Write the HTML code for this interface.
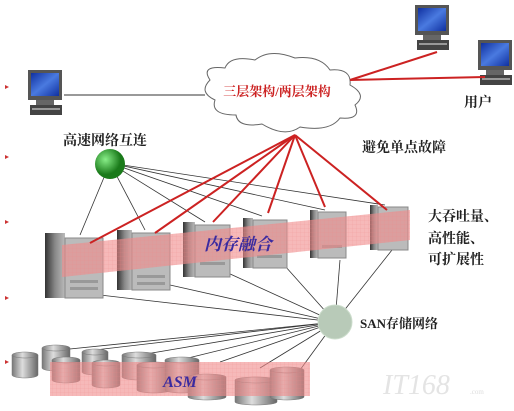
<!DOCTYPE html>
<html><head><meta charset="utf-8"><style>
html,body{margin:0;padding:0;background:#fff;}
svg{display:block;}
text{font-family:"Liberation Serif","Noto Serif CJK SC","Noto Sans CJK SC",serif;}
</style></head><body>
<svg width="514" height="411" viewBox="0 0 514 411" xmlns="http://www.w3.org/2000/svg">
<defs>
<linearGradient id="srv" x1="0" x2="1"><stop offset="0" stop-color="#333"/><stop offset="0.5" stop-color="#888"/><stop offset="1" stop-color="#bbb"/></linearGradient>
<linearGradient id="cyl" x1="0" x2="1"><stop offset="0" stop-color="#777"/><stop offset="0.4" stop-color="#ddd"/><stop offset="1" stop-color="#666"/></linearGradient>
<radialGradient id="grn" cx="0.35" cy="0.35"><stop offset="0" stop-color="#8e8"/><stop offset="1" stop-color="#1a7a1a"/></radialGradient>
<linearGradient id="scr" x1="0" y1="0" x2="1" y2="1"><stop offset="0" stop-color="#1030a0"/><stop offset="0.5" stop-color="#4a7ae0"/><stop offset="1" stop-color="#1030a0"/></linearGradient>
<g id="pc"><rect x="0" y="0" width="34" height="30" fill="#555"/><rect x="3" y="3" width="28" height="23" fill="url(#scr)"/><rect x="8" y="30" width="18" height="5" fill="#666"/><rect x="2" y="35" width="32" height="10" fill="#444"/><rect x="4" y="38" width="28" height="2" fill="#999"/></g>
<pattern id="grid" width="4" height="4" patternUnits="userSpaceOnUse"><path d="M4 0H0V4" fill="none" stroke="#e88" stroke-width="0.5"/></pattern>
</defs>
<g fill="#c33"><path d="M5 85l4 2-4 2z"/><path d="M5 155l4 2-4 2z"/><path d="M5 220l4 2-4 2z"/><path d="M5 296l4 2-4 2z"/><path d="M5 360l4 2-4 2z"/></g>
<use href="#pc" x="28" y="70"/>
<use href="#pc" x="415" y="5"/>
<use href="#pc" x="478" y="40"/>
<line x1="64" y1="95" x2="205" y2="95" stroke="#333" stroke-width="1"/>
<path d="M210 80 Q200 65 225 68 Q230 55 255 60 Q270 48 295 58 Q320 55 330 70 Q352 68 350 85 Q368 95 355 105 Q362 120 340 118 Q330 132 300 127 Q285 138 262 124 Q238 128 236 115 Q210 115 215 100 Q198 92 210 80Z" fill="#fff" stroke="#666" stroke-width="1"/>
<text x="277" y="96" font-size="13" fill="#c22" text-anchor="middle" font-weight="bold">三层架构/两层架构</text>
<g stroke="#c22" stroke-width="2"><line x1="437" y1="52" x2="350" y2="80"/><line x1="485" y1="77" x2="350" y2="80"/></g>
<text x="464" y="107" font-size="14" fill="#222" font-weight="bold">用户</text>
<text x="63" y="145" font-size="14" fill="#222" font-weight="bold">高速网络互连</text>
<text x="362" y="152" font-size="14" fill="#222" font-weight="bold">避免单点故障</text>
<g stroke="#333" stroke-width="0.8">
<line x1="110" y1="163" x2="80" y2="235"/><line x1="110" y1="163" x2="145" y2="230"/><line x1="110" y1="163" x2="205" y2="222"/><line x1="110" y1="163" x2="262" y2="216"/><line x1="110" y1="163" x2="325" y2="210"/><line x1="110" y1="163" x2="385" y2="205"/>
<line x1="335" y1="322" x2="100" y2="295"/><line x1="335" y1="322" x2="170" y2="285"/><line x1="335" y1="322" x2="228" y2="273"/><line x1="335" y1="322" x2="285" y2="266"/><line x1="335" y1="322" x2="340" y2="260"/><line x1="335" y1="322" x2="392" y2="250"/>
<line x1="335" y1="322" x2="60" y2="350"/><line x1="335" y1="322" x2="95" y2="350"/><line x1="335" y1="322" x2="140" y2="355"/><line x1="335" y1="322" x2="180" y2="360"/><line x1="335" y1="322" x2="220" y2="362"/><line x1="335" y1="322" x2="260" y2="368"/><line x1="335" y1="322" x2="300" y2="370"/>
</g>
<circle cx="110" cy="164" r="15" fill="url(#grn)"/>
<g>
<rect x="45" y="233" width="20" height="65" fill="url(#srv)"/><rect x="65" y="238" width="38" height="60" fill="#bbb" stroke="#888"/>
<rect x="117" y="230" width="15" height="60" fill="url(#srv)"/><rect x="132" y="233" width="38" height="57" fill="#bbb" stroke="#888"/>
<rect x="183" y="222" width="12" height="55" fill="url(#srv)"/><rect x="195" y="225" width="35" height="52" fill="#bbb" stroke="#888"/>
<rect x="243" y="218" width="10" height="50" fill="url(#srv)"/><rect x="253" y="220" width="34" height="48" fill="#bbb" stroke="#888"/>
<rect x="310" y="210" width="8" height="48" fill="url(#srv)"/><rect x="318" y="212" width="28" height="46" fill="#bbb" stroke="#888"/>
<rect x="370" y="205" width="8" height="45" fill="url(#srv)"/><rect x="378" y="207" width="30" height="43" fill="#bbb" stroke="#888"/>
<g fill="#999"><rect x="70" y="280" width="28" height="3"/><rect x="70" y="287" width="28" height="3"/><rect x="137" y="275" width="28" height="3"/><rect x="137" y="282" width="28" height="3"/><rect x="200" y="262" width="25" height="3"/><rect x="257" y="255" width="25" height="3"/><rect x="322" y="245" width="20" height="3"/></g>
</g>
<polygon points="62,245 410,210 410,240 62,277" fill="#f08a8a" opacity="0.6"/>
<polygon points="62,245 410,210 410,240 62,277" fill="url(#grid)" opacity="0.5"/>
<text x="238" y="250" font-size="17" fill="#3a2aa0" font-style="italic" font-weight="bold" text-anchor="middle">内存融合</text>
<g stroke="#c22" stroke-width="2" fill="#c22">
<line x1="295" y1="135" x2="90" y2="243"/><line x1="295" y1="135" x2="155" y2="233"/><line x1="295" y1="135" x2="213" y2="222"/><line x1="295" y1="135" x2="268" y2="213"/><line x1="295" y1="135" x2="325" y2="207"/><line x1="295" y1="135" x2="387" y2="210"/>
</g>
<text x="428" y="221" font-size="14" fill="#222" font-weight="bold">大吞吐量、</text>
<text x="428" y="243" font-size="14" fill="#222" font-weight="bold">高性能、</text>
<text x="428" y="264" font-size="14" fill="#222" font-weight="bold">可扩展性</text>
<circle cx="335" cy="322" r="17" fill="#b8cab8" stroke="#cdc"/>
<text x="360" y="328" font-size="13" fill="#222" font-weight="bold">SAN存储网络</text>
<g fill="url(#cyl)" stroke="#777" stroke-width="0.5">
<path d="M12 355v20a13 3 0 0 0 26 0v-20z"/><ellipse cx="25" cy="355" rx="13" ry="3"/>
<path d="M42 348v20a14 3 0 0 0 28 0v-20z"/><ellipse cx="56" cy="348" rx="14" ry="3"/>
<path d="M52 360v20a14 3 0 0 0 28 0v-20z"/><ellipse cx="66" cy="360" rx="14" ry="3"/>
<path d="M82 352v20a13 3 0 0 0 26 0v-20z"/><ellipse cx="95" cy="352" rx="13" ry="3"/>
<path d="M92 363v22a14 3 0 0 0 28 0v-22z"/><ellipse cx="106" cy="363" rx="14" ry="3"/>
<path d="M122 355v22a17 3 0 0 0 34 0v-22z"/><ellipse cx="139" cy="355" rx="17" ry="3"/>
<path d="M137 365v25a17 3 0 0 0 34 0v-25z"/><ellipse cx="154" cy="365" rx="17" ry="3"/>
<path d="M165 360v30a17 3 0 0 0 34 0v-30z"/><ellipse cx="182" cy="360" rx="17" ry="3"/>
<path d="M188 377v20a19 3 0 0 0 38 0v-20z"/><ellipse cx="207" cy="377" rx="19" ry="3"/>
<path d="M235 380v22a21 3 0 0 0 42 0v-22z"/><ellipse cx="256" cy="380" rx="21" ry="3"/>
<path d="M270 370v27a17 3 0 0 0 34 0v-27z"/><ellipse cx="287" cy="370" rx="17" ry="3"/>
</g>
<rect x="50" y="362" width="260" height="34" fill="#f08a8a" opacity="0.6"/>
<rect x="50" y="362" width="260" height="34" fill="url(#grid)" opacity="0.5"/>
<text x="180" y="387" font-size="16" fill="#3a2aa0" font-style="italic" font-weight="bold" text-anchor="middle">ASM</text>
<text x="383" y="394" font-size="28" fill="#e4e4e4" font-style="italic" font-family="Liberation Sans,sans-serif">IT168</text>
<text x="470" y="394" font-size="7" fill="#ddd">.com</text>
</svg>
</body></html>
